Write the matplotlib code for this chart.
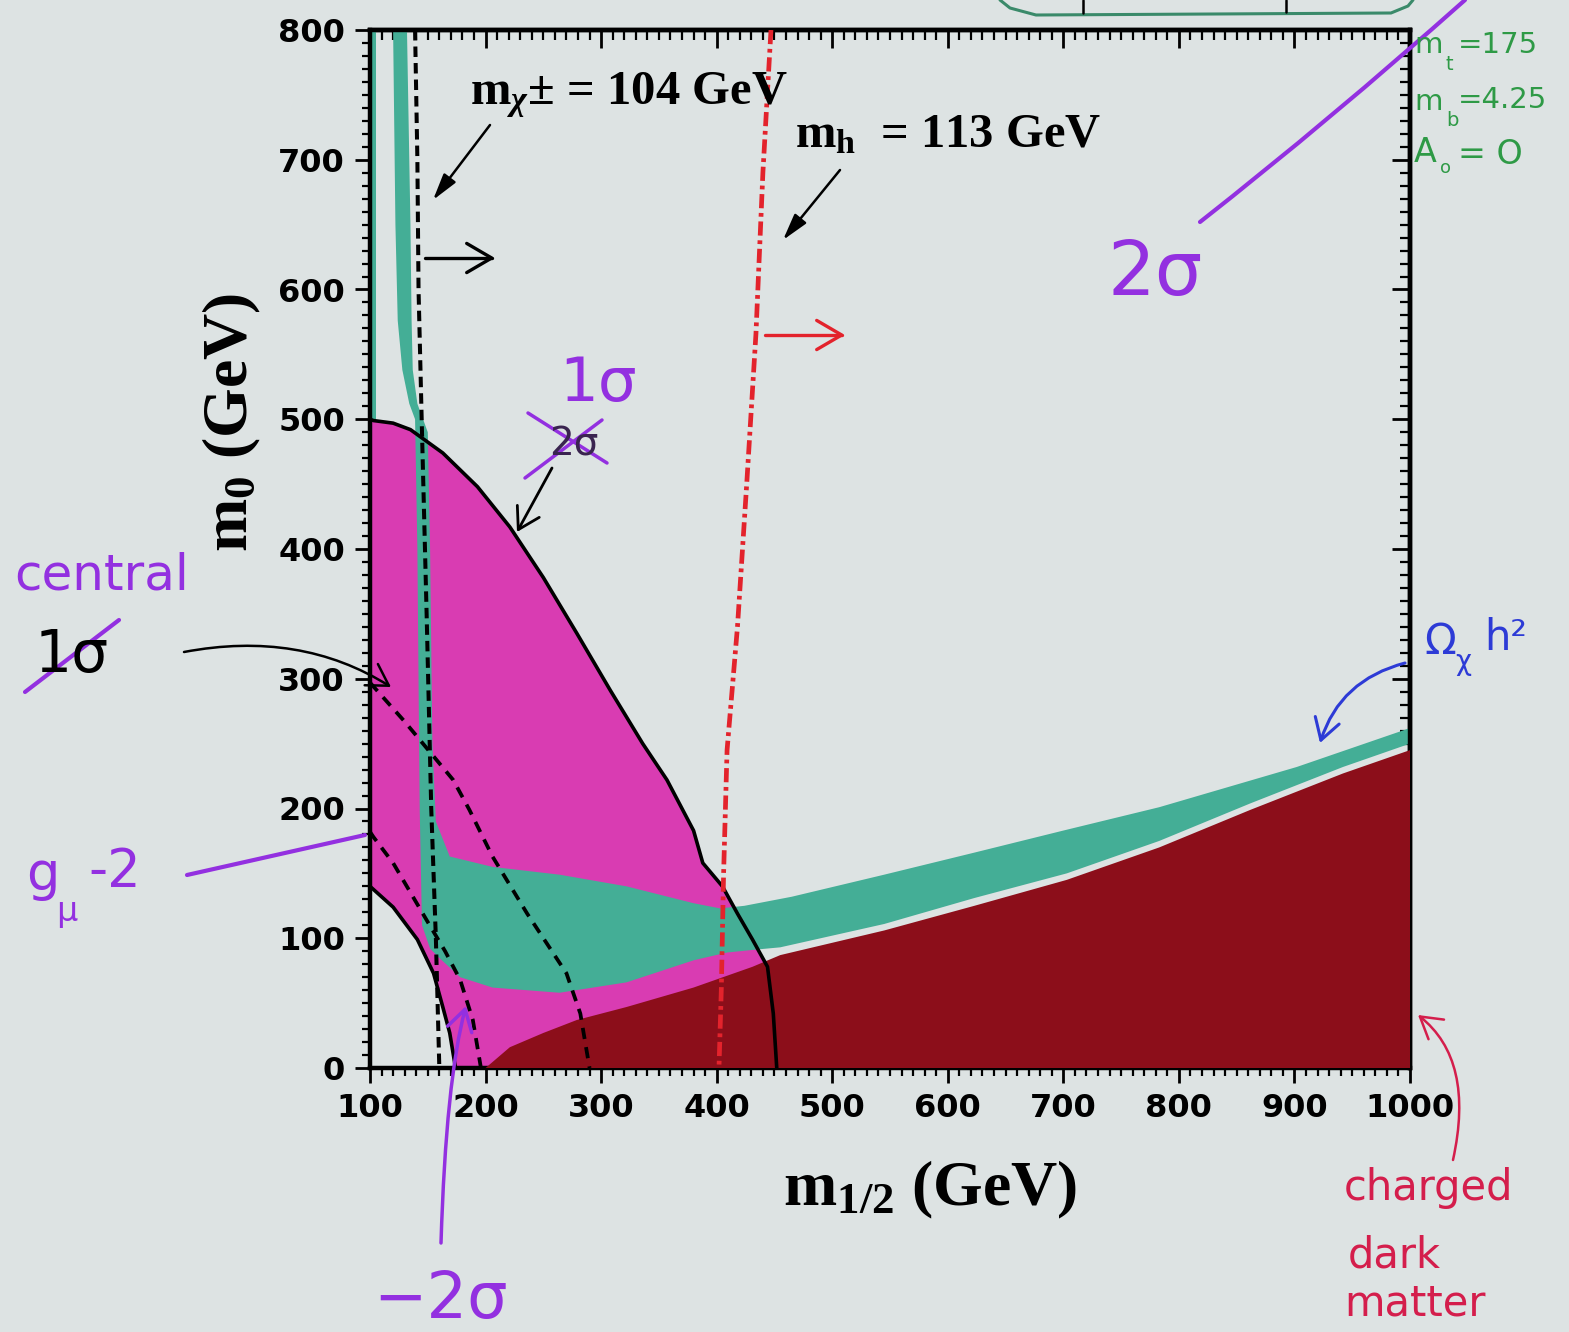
import numpy as np
import matplotlib
matplotlib.use("Agg")
import matplotlib.pyplot as plt
from matplotlib.ticker import MultipleLocator
from matplotlib.patches import Polygon, FancyArrowPatch
from matplotlib.path import Path
from matplotlib.lines import Line2D

W, H = 1569, 1332

# ---------------- data (m_1/2, m_0) in GeV ----------------
x_ticks = [100, 200, 300, 400, 500, 600, 700, 800, 900, 1000]
y_ticks = [0, 100, 200, 300, 400, 500, 600, 700, 800]

# g_mu - 2 allowed region (magenta): outer and inner boundaries
g2_outer_m12 = [100, 103, 120, 135, 163, 193, 221, 250, 279, 308, 336, 357, 380, 388, 405, 418, 431, 444, 449, 452]
g2_outer_m0 = [500, 499, 497, 492, 474, 448, 417, 378, 335, 291, 250, 222, 183, 158, 140, 119, 99, 78, 42, 0]
g2_inner_m12 = [100, 120, 141, 155, 163, 169, 174]
g2_inner_m0 = [140, 124, 99, 73, 47, 27, 0]

# relic density (Omega h^2) region: upper edge then lower edge
omega_upper_m12 = [120, 132, 135, 136, 137, 141, 150, 152, 154, 157, 169, 206, 264, 322, 380, 403, 424, 465, 545, 623, 700, 783, 902, 1000]
omega_upper_m0 = [800, 800, 650, 576, 538, 512, 490, 400, 250, 190, 163, 155, 149, 140, 127, 123, 125, 132, 149, 166, 183, 201, 232, 262]
omega_lower_m12 = [1000, 942, 862, 783, 703, 623, 545, 455, 431, 409, 380, 322, 264, 206, 178, 161, 152, 145, 143, 141, 139, 134, 128, 124, 122]
omega_lower_m0 = [250, 232, 204, 175, 150, 131, 111, 93, 91, 89, 83, 66, 58, 62, 70, 84, 92, 110, 200, 400, 500, 512, 538, 576, 650]
omega_edge_m12 = [100, 105, 105, 100]
omega_edge_m0 = [800, 800, 500, 500]

# charged (stau) LSP region upper edge
stau_m12 = [200, 221, 250, 279, 322, 380, 431, 455, 545, 623, 703, 783, 862, 942, 1000]
stau_m0 = [0, 16, 27, 37, 47, 62, 78, 87, 106, 125, 145, 170, 199, 227, 245]

# LEP limits
chargino_m12 = [139, 141, 142, 145, 149, 153, 157, 160]
chargino_m0 = [800, 700, 600, 490, 350, 200, 100, 0]
higgs_m12 = [447, 440, 434, 426, 418, 409, 406, 404, 402]
higgs_m0 = [800, 690, 566, 450, 340, 245, 150, 60, 0]

# g-2 dashed contours
g2_central_m12 = [100, 103, 129, 158, 172, 186, 206, 236, 270, 282, 290]
g2_central_m0 = [297, 294, 268, 237, 222, 199, 163, 119, 73, 42, 0]
g2_sigma_m12 = [100, 103, 120, 149, 165, 178, 189, 196]
g2_sigma_m0 = [182, 178, 158, 114, 90, 68, 37, 0]

# ---------------- style ----------------
plt.rcParams.update({
    "mathtext.fontset": "custom",
    "mathtext.rm": "Liberation Serif:bold",
    "mathtext.bf": "Liberation Serif:bold",
    "mathtext.it": "Liberation Serif:italic:bold",
})
BG = "#dde3e3"
MAG = "#d93cb2"
TEAL = "#44ae96"
DRED = "#8c0e1a"
PURPLE = "#9330e0"
HAND = "DejaVu Sans"
SERIF = "Liberation Serif"


def P(px, py):
    return (px / W, 1 - py / H)


fig = plt.figure(figsize=(W / 100, H / 100), dpi=100)
fig.patch.set_facecolor(BG)
ax = fig.add_axes([370 / W, 1 - 1068 / H, 1040 / W, 1038 / H])
ax.set_facecolor(BG)
ax.set_xlim(100, 1000)
ax.set_ylim(0, 800)

# magenta region
mag_x = list(g2_outer_m12) + list(g2_inner_m12[::-1])
mag_y = list(g2_outer_m0) + list(g2_inner_m0[::-1])
ax.add_patch(Polygon(np.column_stack([mag_x, mag_y]), closed=True, fc=MAG, ec="none", zorder=1))

# relic density region
om_x = list(omega_upper_m12) + list(omega_lower_m12)
om_y = list(omega_upper_m0) + list(omega_lower_m0)
ax.add_patch(Polygon(np.column_stack([om_x, om_y]), closed=True, fc=TEAL, ec="none", zorder=2))
ax.add_patch(Polygon(np.column_stack([omega_edge_m12, omega_edge_m0]), closed=True, fc=TEAL, ec="none", zorder=2))

# stau region
st_x = list(stau_m12) + [1000, stau_m12[0]]
st_y = list(stau_m0) + [0, 0]
ax.add_patch(Polygon(np.column_stack([st_x, st_y]), closed=True, fc=DRED, ec="none", zorder=3))

# black solid boundaries
ax.plot(g2_outer_m12, g2_outer_m0, color="black", lw=2.6, zorder=4)
ax.plot(g2_inner_m12, g2_inner_m0, color="black", lw=2.6, zorder=4)

# dashed lines
ax.plot(chargino_m12, chargino_m0, color="black", lw=2.9, linestyle=(0, (2.6, 1.5)), zorder=5)
ax.plot(g2_central_m12, g2_central_m0, color="black", lw=2.7, linestyle=(0, (3.0, 2.2)), zorder=5)
ax.plot(g2_sigma_m12, g2_sigma_m0, color="black", lw=2.7, linestyle=(0, (3.0, 2.2)), zorder=5)
ax.plot(higgs_m12, higgs_m0, color="#e3232c", lw=3.4, linestyle=(0, (3.0, 1.0, 0.8, 1.0)), zorder=6)

# ticks & spines
ax.set_xticks(x_ticks)
ax.set_yticks(y_ticks)
ax.xaxis.set_minor_locator(MultipleLocator(10))
ax.yaxis.set_minor_locator(MultipleLocator(10))
ax.tick_params(which="major", direction="out", length=11, width=2.0, labelsize=23, pad=7)
ax.tick_params(which="minor", direction="out", length=6, width=1.6)
for lab in ax.get_xticklabels() + ax.get_yticklabels():
    lab.set_family("DejaVu Sans")
    lab.set_weight("bold")
for s in ax.spines.values():
    s.set_linewidth(3.2)
sx = ax.secondary_xaxis("top")
sx.set_xticks(x_ticks)
sx.xaxis.set_minor_locator(MultipleLocator(10))
sx.tick_params(which="major", direction="in", length=13, width=2.0, labeltop=False)
sx.tick_params(which="minor", direction="in", length=7, width=1.6)
sx.spines["top"].set_linewidth(3.2)
sy = ax.secondary_yaxis("right")
sy.set_yticks(y_ticks)
sy.yaxis.set_minor_locator(MultipleLocator(10))
sy.tick_params(which="major", direction="in", length=13, width=2.0, labelright=False)
sy.tick_params(which="minor", direction="in", length=7, width=1.6)
sy.spines["right"].set_linewidth(3.2)

# axis labels
fig.text(*P(930, 1205), r"$\mathrm{m}_{\mathrm{1/2}}$ (GeV)", fontsize=46, family=SERIF,
         weight="bold", ha="center", va="baseline")
fig.text(*P(232, 422), r"$\mathrm{m}_{\mathrm{0}}$ (GeV)", fontsize=46, family=SERIF,
         weight="bold", ha="center", va="center", rotation=90)

# printed annotations
fig.text(*P(470, 104), r"$\mathrm{m}_{\chi}$± = 104 GeV", fontsize=35, family=SERIF,
         weight="bold", ha="left", va="baseline", zorder=8)
fig.text(*P(795, 147), r"$\mathrm{m}_{\mathrm{h}}$  = 113 GeV", fontsize=35, family=SERIF,
         weight="bold", ha="left", va="baseline", zorder=8)


def farrow(pts, color, lw, style="->,head_length=0.5,head_width=0.3", ms=30, z=9):
    verts = [P(*p) for p in pts]
    if len(verts) == 2:
        codes = [Path.MOVETO, Path.LINETO]
    elif len(verts) == 3:
        codes = [Path.MOVETO, Path.CURVE3, Path.CURVE3]
    else:
        codes = [Path.MOVETO] + [Path.LINETO] * (len(verts) - 1)
    a = FancyArrowPatch(path=Path(verts, codes), arrowstyle=style, mutation_scale=ms,
                        color=color, lw=lw, transform=fig.transFigure, zorder=z)
    fig.add_artist(a)


def fline(pts, color, lw, z=9):
    xs, ys = zip(*[P(*p) for p in pts])
    fig.add_artist(Line2D(xs, ys, transform=fig.transFigure, color=color, lw=lw, zorder=z,
                          solid_capstyle="round"))


def htext(px, py, s, size, color, ha="left", va="center", fam=HAND):
    fig.text(*P(px, py), s, fontsize=size, color=color, ha=ha, va=va, family=fam, zorder=9)


# printed arrows
farrow([(490, 125), (433, 200)], "black", 1.8, "-|>,head_length=0.9,head_width=0.25", ms=18)
farrow([(425, 258), (495, 258)], "black", 2.4, "->,head_length=0.6,head_width=0.35", ms=30)
farrow([(840, 170), (783, 240)], "black", 1.8, "-|>,head_length=0.9,head_width=0.25", ms=18)
farrow([(765, 335), (845, 335)], "#e3232c", 2.4, "->,head_length=0.6,head_width=0.35", ms=30)

# handwritten annotations
htext(598, 385, "1σ", 44, PURPLE, ha="center")
htext(574, 445, "2σ", 28, "#3a2450", ha="center")
fline([(528, 413), (607, 463)], PURPLE, 2.5)
fline([(525, 478), (602, 420)], PURPLE, 2.5)
farrow([(552, 468), (517, 532)], "black", 2.0)

htext(1155, 275, "2σ", 54, PURPLE, ha="center")
farrow([(1200, 222), (1330, 120), (1465, 0)], PURPLE, 3.0, "-")

htext(102, 575, "central", 36, PURPLE, ha="center")
htext(72, 655, "1σ", 42, "black", ha="center")
fline([(25, 692), (119, 620)], PURPLE, 3.0)
farrow([(184, 652), (300, 630), (391, 687)], "black", 1.8)

htext(26, 875, "g", 38, PURPLE)
htext(56, 912, "μ", 24, PURPLE)
htext(88, 872, "-2", 38, PURPLE)
fline([(187, 875), (365, 835)], PURPLE, 3.0)

htext(440, 1300, "−2σ", 46, PURPLE, ha="center")
farrow([(441, 1243), (446, 1080), (466, 1006)], PURPLE, 2.5)

htext(1424, 642, "Ω", 30, "#2d3bd6")
htext(1455, 662, "χ", 20, "#2d3bd6")
htext(1484, 638, "h²", 30, "#2d3bd6")
farrow([(1405, 663), (1340, 680), (1320, 743)], "#2d3bd6", 2.2)

RED = "#d41e4c"
htext(1344, 1188, "charged", 30, RED)
htext(1348, 1255, "dark", 30, RED)
htext(1344, 1303, "matter", 30, RED)
farrow([(1453, 1160), (1475, 1060), (1418, 1015)], RED, 1.8)

GRN = "#2e9a46"
htext(1414, 45, "m", 21, GRN)
htext(1446, 64, "t", 14, GRN)
htext(1458, 45, "=175", 21, GRN)
htext(1414, 102, "m", 21, GRN)
htext(1446, 121, "b", 14, GRN)
htext(1458, 100, "=4.25", 21, GRN)
htext(1414, 152, "A", 24, GRN)
htext(1440, 168, "o", 13, GRN)
htext(1458, 155, "= O", 24, GRN)

# partially visible parameter box at the top
fline([(1000, 0), (1010, 8), (1036, 15), (1391, 13), (1408, 6), (1413, 0)], "#3a8a6a", 2.2)
fline([(1083, 0), (1083, 13)], "black", 1.8)
fline([(1286, 0), (1286, 12)], "black", 1.8)

fig.savefig("out.png", dpi=100, facecolor=fig.get_facecolor())
